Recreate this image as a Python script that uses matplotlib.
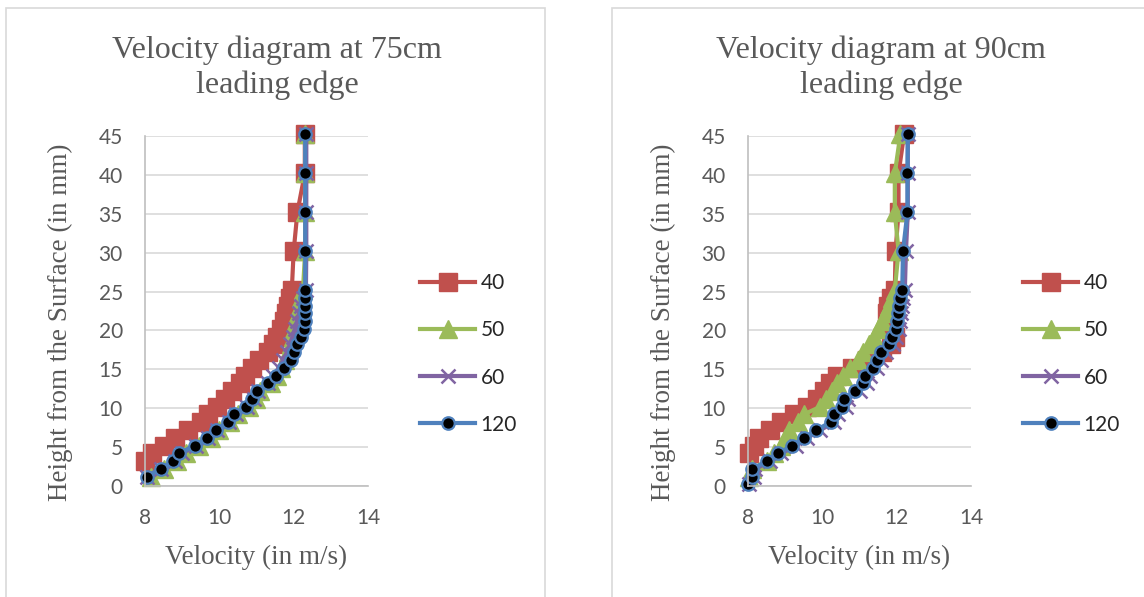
import matplotlib
matplotlib.use("Agg")
import matplotlib.pyplot as plt
from matplotlib.patches import Rectangle

# heights (mm)
h_left = [1.2, 2.2, 3.2, 4.2, 5.2, 6.2, 7.2, 8.2, 9.2, 10.2, 11.2, 12.2, 13.2, 14.2, 15.2,
          16.2, 17.2, 18.2, 19.2, 20.2, 21.2, 22.2, 23.2, 24.2, 25.2, 30.2, 35.2, 40.2, 45.2]
h_left_40 = [3.2, 4.2, 5.2, 6.2, 7.2, 8.2, 9.2, 10.2, 11.2, 12.2, 13.2, 14.2, 15.2,
             16.2, 17.2, 18.2, 19.2, 20.2, 21.2, 22.2, 23.2, 24.2, 25.2, 30.2, 35.2, 40.2, 45.2]
h_right = [0.2, 1.2, 2.2, 3.2, 4.2, 5.2, 6.2, 7.2, 8.2, 9.2, 10.2, 11.2, 12.2, 13.2, 14.2, 15.2,
           16.2, 17.2, 18.2, 19.2, 20.2, 21.2, 22.2, 23.2, 24.2, 25.2, 30.2, 35.2, 40.2, 45.2]
h_right_40 = [4.2, 5.2, 6.2, 7.2, 8.2, 9.2, 10.2, 11.2, 12.2, 13.2, 14.2, 15.2,
              16.2, 17.2, 18.2, 19.2, 20.2, 21.2, 22.2, 23.2, 24.2, 25.2, 30.2, 35.2, 40.2, 45.2]

# velocities (m/s), 75 cm from leading edge
v75_40 = [8.0, 8.2, 8.5, 8.8, 9.15, 9.5, 9.7, 9.95, 10.15, 10.35, 10.55, 10.7, 10.88, 11.08,
          11.3, 11.45, 11.55, 11.65, 11.73, 11.8, 11.86, 11.9, 11.95, 12.0, 12.1, 12.3, 12.3]
v75_50 = [8.15, 8.5, 8.85, 9.1, 9.45, 9.78, 10.0, 10.3, 10.5, 10.8, 10.98, 11.1, 11.38, 11.55,
          11.65, 11.76, 11.85, 11.92, 11.97, 12.02, 12.07, 12.12, 12.16, 12.2, 12.25,
          12.31, 12.31, 12.31, 12.31]
v75_60 = [8.05, 8.42, 8.8, 9.0, 9.38, 9.7, 9.95, 10.25, 10.45, 10.75, 10.92, 11.05, 11.3, 11.45,
          11.6, 11.72, 11.82, 11.9, 11.97, 12.03, 12.09, 12.15, 12.2, 12.26, 12.33,
          12.34, 12.34, 12.34, 12.34]
v75_120 = [8.06, 8.42, 8.76, 8.92, 9.35, 9.68, 9.9, 10.22, 10.4, 10.71, 10.89, 11.0, 11.32, 11.52,
           11.73, 11.93, 12.02, 12.1, 12.2, 12.29, 12.3, 12.31, 12.31, 12.31, 12.31,
           12.31, 12.31, 12.31, 12.31]

# velocities (m/s), 90 cm from leading edge
v90_40 = [8.03, 8.15, 8.3, 8.6, 8.9, 9.25, 9.6, 9.85, 10.05, 10.2, 10.4, 10.8, 11.2, 11.6,
          11.85, 11.95, 11.9, 11.8, 11.75, 11.78, 11.85, 11.95, 11.97, 12.05, 12.05, 12.2]
v90_50 = [8.02, 8.1, 8.5, 8.7, 8.9, 9.0, 9.1, 9.35, 9.5, 9.95, 10.1, 10.25, 10.4, 10.55, 10.75,
          10.95, 11.1, 11.25, 11.4, 11.5, 11.6, 11.7, 11.8, 11.88, 11.95, 12.05, 11.95, 11.95, 12.1]
v90_60 = [8.02, 8.15, 8.2, 8.6, 8.9, 9.3, 9.6, 9.95, 10.32, 10.42, 10.63, 10.7, 11.0, 11.2, 11.28,
          11.47, 11.58, 11.7, 11.9, 11.98, 12.06, 12.1, 12.13, 12.15, 12.18, 12.22,
          12.25, 12.3, 12.3, 12.3]
v90_120 = [8.0, 8.1, 8.12, 8.51, 8.81, 9.19, 9.5, 9.84, 10.22, 10.31, 10.53, 10.58, 10.89, 11.09,
           11.16, 11.36, 11.47, 11.59, 11.79, 11.88, 11.97, 12.0, 12.04, 12.06, 12.1, 12.15,
           12.17, 12.29, 12.29, 12.3]

labels = ["40", "50", "60", "120"]
titles = ["Velocity diagram at 75cm\nleading edge", "Velocity diagram at 90cm\nleading edge"]
xticks = [8, 10, 12, 14]
yticks = [0, 5, 10, 15, 20, 25, 30, 35, 40, 45]

styles = [
    dict(color="#C0504D", marker="s", ms=13, mfc="#C0504D", mec="#C0504D"),
    dict(color="#9BBB59", marker="^", ms=13, mfc="#9BBB59", mec="#9BBB59"),
    dict(color="#8064A2", marker="x", ms=10, mew=1.8),
    dict(color="#4F81BD", marker="o", ms=9, mfc="black", mec="#4F81BD", mew=1.6),
]

W, H = 1144, 597
fig = plt.figure(figsize=(W / 100, H / 100), dpi=100)

# chart frames
for x0, x1 in [(6, 545), (612, 1150)]:
    fig.patches.append(Rectangle((x0 / W, -0.05), (x1 - x0) / W, (H - 8) / H + 0.05,
                                 transform=fig.transFigure, fill=False,
                                 edgecolor="#d9d9d9", lw=1.2))

serif = "Liberation Serif"
sans = "Lato"
gray = "#595959"

panels = [
    (145, [(v75_40, h_left_40), (v75_50, h_left), (v75_60, h_left), (v75_120, h_left)], 277),
    (748, [(v90_40, h_right_40), (v90_50, h_left), (v90_60, h_right), (v90_120, h_right)], 881),
]

for i, (left_px, series, tcx) in enumerate(panels):
    ax = fig.add_axes([left_px / W, (H - 486) / H, 223 / W, 350 / H])
    for (xs, ys), lab, st in zip(series, labels, styles):
        ax.plot(xs, ys, lw=3, label=lab, clip_on=False, **st)
    ax.set_xlim(8, 14)
    ax.set_ylim(0, 45)
    ax.set_xticks(xticks)
    ax.set_yticks(yticks)
    ax.grid(axis="y", color="#d9d9d9", lw=1.2)
    ax.set_axisbelow(True)
    for s in ["top", "right"]:
        ax.spines[s].set_visible(False)
    for s in ["left", "bottom"]:
        ax.spines[s].set_color("#bfbfbf")
        ax.spines[s].set_linewidth(1.2)
    ax.tick_params(length=0, labelsize=15, labelcolor=gray)
    ax.tick_params(axis="y", pad=16)
    ax.tick_params(axis="x", pad=16)
    for t in ax.get_xticklabels() + ax.get_yticklabels():
        t.set_fontfamily(sans)

    # axis titles
    fig.text((left_px - 85) / W, 1 - 322 / H, "Height from the Surface (in mm)", rotation=90,
             ha="center", va="center", family=serif, fontsize=19.5, color=gray)
    fig.text((left_px + 111) / W, 1 - 557 / H, "Velocity (in m/s)", ha="center", va="center",
             family=serif, fontsize=19.5, color=gray)
    fig.text(tcx / W, 1 - 68 / H, titles[i], ha="center", va="center", family=serif,
             fontsize=23, color=gray, linespacing=1.25)

    leg = ax.legend(loc="center left", bbox_to_anchor=((left_px + 275) / W, 1 - 354 / H),
                    bbox_transform=fig.transFigure, frameon=False, borderpad=0,
                    borderaxespad=0, handlelength=2.65, handletextpad=0.25,
                    labelspacing=1.3, prop=dict(family=sans, size=15))
    for t in leg.get_texts():
        t.set_color("#262626")

fig.savefig("out.png", dpi=100)
